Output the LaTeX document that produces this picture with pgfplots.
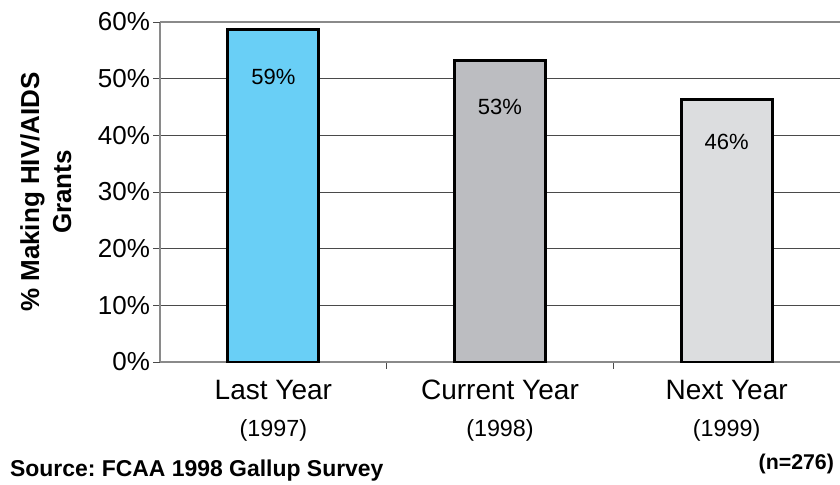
\documentclass[border=0pt]{standalone}
\usepackage{pgfplots}
\pgfplotsset{compat=1.18}
\usepackage{fontspec}
\setmainfont{Liberation Sans}
\frenchspacing
\definecolor{barblue}{HTML}{69CFF6}
\definecolor{bargray}{HTML}{BCBDC1}
\definecolor{barlight}{HTML}{DCDDDF}
\definecolor{gridgray}{HTML}{8A8A8A}
\definecolor{griddark}{HTML}{4A4A4A}
\begin{document}
\begin{tikzpicture}
\useasboundingbox (-120pt,-92.25pt) rectangle (510pt,271.5pt);
\begin{axis}[
  at={(0,0)}, anchor=south west,
  scale only axis, width=510pt, height=255pt,
  xmin=-0.5, xmax=2.5, ymin=0, ymax=60,
  axis x line*=bottom, axis y line*=left,
  axis line style={gridgray, line width=1.3pt},
  ytick={0,10,...,50},
  extra y ticks={60},
  extra y tick style={grid style={gridgray, line width=1.6pt}},
  ymajorgrids, grid style={griddark, line width=0.7pt},
  tick align=outside,
  major tick length=5pt,
  tick style={griddark, line width=0.7pt},
  /pgf/number format/assume math mode=true,
  yticklabel={\pgfmathprintnumber{\tick}\%},
  yticklabel style={font=\fontsize{19.5}{21}\selectfont, xshift=1pt},
  xtick={0.5,1.5},
  xticklabels={},
  extra x ticks={0,1,2},
  extra x tick labels={{Last Year\\[5pt]{\fontsize{17.5}{19}\selectfont(1997)}},
               {Current Year\\[5pt]{\fontsize{17.5}{19}\selectfont(1998)}},
               {Next Year\\[5pt]{\fontsize{17.5}{19}\selectfont(1999)}}},
  extra x tick style={major tick length=0pt, xticklabel style={align=center, font=\fontsize{21}{23}\selectfont, yshift=-10pt}},
  ylabel={\textbf{\% Making HIV/AIDS}\\\textbf{Grants}},
  ylabel style={align=center, font=\fontsize{19.5}{24}\selectfont, at={(ticklabel cs:0.5)}, rotate=0, anchor=south, yshift=3pt},
  ybar, bar width=68.25pt, bar shift=0pt,
  nodes near coords={\pgfmathprintnumber[fixed,precision=0]{\pgfplotspointmeta}\%},
  every node near coord/.append style={font=\fontsize{16.5}{18}\selectfont, anchor=center},
  clip=false,
]
\addplot[fill=barblue, draw=black, line width=2.2pt, every node near coord/.append style={yshift=-35.5pt}] coordinates {(0,58.7)};
\addplot[fill=bargray, draw=black, line width=2.2pt, every node near coord/.append style={yshift=-35pt}] coordinates {(1,53.2)};
\addplot[fill=barlight, draw=black, line width=2.2pt, every node near coord/.append style={yshift=-32.5pt}] coordinates {(2,46.4)};
\end{axis}
\node[anchor=base west, font=\bfseries\fontsize{17.2}{18}\selectfont] at (-116pt,-86pt) {Source: FCAA 1998 Gallup Survey};
\node[anchor=base east, font=\bfseries\fontsize{16}{18}\selectfont] at (509pt,-81pt) {(n=276)};
\end{tikzpicture}
\end{document}
